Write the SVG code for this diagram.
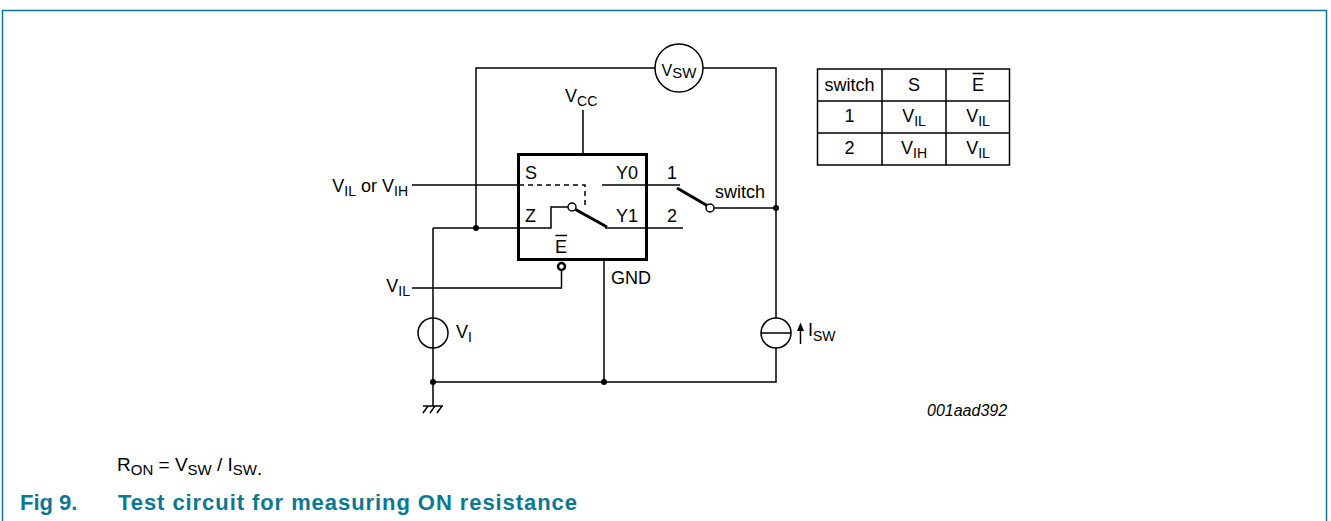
<svg xmlns="http://www.w3.org/2000/svg" width="1331" height="521" viewBox="0 0 1331 521">
<style>
text{font-family:"Liberation Sans",Arial,sans-serif;font-size:18px;fill:#000}
.sub{font-size:14px}
.w{fill:none;stroke:#000;stroke-width:1.5}
.thick{fill:none;stroke:#000;stroke-width:3}
.dot{fill:#000}
.cap{font-weight:bold;font-size:22px;fill:#0a7891}
</style>
<rect width="1331" height="521" fill="#fff"/>
<path d="M2.5 521V10.5H1326.5V521" fill="none" stroke="#0a7891" stroke-width="1.5"/>
<g id="connectors">
<path class="w" d="M476 228V68H655M703 68H776V318M776 348V382H433M433 228V406"/>
<path class="w" d="M412 185H519"/>
<path class="w" d="M433 228H551V207H568"/>
<path class="w" d="M583 110V154"/>
<path class="w" d="M604 260V382"/>
<path class="w" d="M561.5 270V288H412"/>
<path class="w" d="M602 185H680"/>
<path class="w" d="M605 228H683"/>
<path class="w" d="M714 208H776"/>
<path class="w" d="M519 185H585V208" stroke-dasharray="5,4"/>
<path class="w" d="M423 406H443M428 406L423 413M435 406L430 413M442 406L437 413"/>
<circle class="dot" cx="476" cy="228" r="3"/>
<circle class="dot" cx="776" cy="208" r="3"/>
<circle class="dot" cx="433" cy="382" r="3"/>
<circle class="dot" cx="604" cy="382" r="3"/>
</g>
<g id="ic">
<rect class="thick" x="518.5" y="154.5" width="128" height="105"/>
<text x="525" y="179">S</text>
<text x="638" y="179" text-anchor="end">Y0</text>
<text x="525" y="222">Z</text>
<text x="638" y="222" text-anchor="end">Y1</text>
<text x="561" y="253" text-anchor="middle">E</text>
<path class="w" d="M555.5 235.5H567"/>
<line class="thick" x1="575.5" y1="209.5" x2="607" y2="227"/>
<circle cx="572" cy="207" r="4" fill="#fff" stroke="#000" stroke-width="1.5"/>
<circle cx="561.5" cy="266.5" r="3.5" fill="#fff" stroke="#000" stroke-width="2.5"/>
<text x="611" y="284">GND</text>
</g>
<g id="vcc"><text x="565" y="102">V<tspan class="sub" dy="4">CC</tspan></text></g>
<g id="vsw">
<circle cx="679" cy="68" r="24" fill="#fff" stroke="#000" stroke-width="1.5"/>
<text x="679" y="76" text-anchor="middle" style="font-size:16px">V<tspan dy="2" style="font-size:15px">SW</tspan></text>
</g>
<g id="switch">
<line class="thick" x1="677" y1="188" x2="707" y2="205.5"/>
<circle cx="710" cy="208" r="4" fill="#fff" stroke="#000" stroke-width="1.5"/>
<text x="667" y="179">1</text>
<text x="667" y="222">2</text>
<text x="715" y="198">switch</text>
</g>
<g id="vi">
<circle cx="433" cy="333" r="15" fill="none" stroke="#000" stroke-width="1.5"/>
<text x="456" y="338">V<tspan class="sub" dy="4">I</tspan></text>
</g>
<g id="isw">
<circle cx="776" cy="333" r="15" fill="#fff" stroke="#000" stroke-width="1.5"/>
<path class="w" d="M761 333H791"/>
<path class="w" d="M800.5 344V329"/>
<path class="dot" d="M797 331L800.5 322.5L804 331Z"/>
<text x="808" y="336">I<tspan class="sub" dy="5">SW</tspan></text>
</g>
<g id="labels">
<text x="408" y="192" text-anchor="end">V<tspan class="sub" dy="4">IL</tspan><tspan dy="-4"> or V</tspan><tspan class="sub" dy="4">IH</tspan></text>
<text x="410" y="292" text-anchor="end">V<tspan class="sub" dy="4">IL</tspan></text>
<text x="927" y="416" style="font-style:italic;font-size:16px">001aad392</text>
</g>
<g id="table">
<path class="w" d="M817.5 69H1009.5V165H817.5ZM817.5 101H1009.5M817.5 133H1009.5M882 69V165M946 69V165"/>
<text x="849.5" y="91" text-anchor="middle">switch</text>
<text x="914" y="91" text-anchor="middle">S</text>
<text x="978" y="91" text-anchor="middle">E</text>
<path class="w" d="M972.5 73.5H984"/>
<text x="849.5" y="122" text-anchor="middle">1</text>
<text x="914" y="122" text-anchor="middle">V<tspan class="sub" dy="4">IL</tspan></text>
<text x="978" y="122" text-anchor="middle">V<tspan class="sub" dy="4">IL</tspan></text>
<text x="849.5" y="154" text-anchor="middle">2</text>
<text x="914" y="154" text-anchor="middle">V<tspan class="sub" dy="4">IH</tspan></text>
<text x="978" y="154" text-anchor="middle">V<tspan class="sub" dy="4">IL</tspan></text>
</g>
<g id="formula">
<text x="117" y="471" style="font-size:19px">R<tspan dy="4" style="font-size:15px">ON</tspan><tspan dy="-4"> = V</tspan><tspan dy="4" style="font-size:15px">SW</tspan><tspan dy="-4"> / I</tspan><tspan dy="4" style="font-size:15px">SW</tspan>.</text>
</g>
<g id="caption">
<text class="cap" x="20" y="510">Fig 9.</text>
<text class="cap" x="118" y="510" textLength="459" lengthAdjust="spacing">Test circuit for measuring ON resistance</text>
</g>
</svg>
